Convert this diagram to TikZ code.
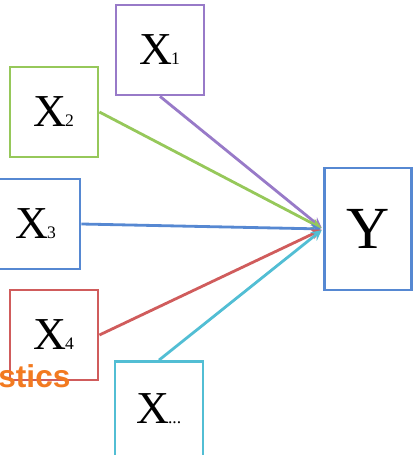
\documentclass[tikz,border=0pt]{standalone}
\usepackage{fontspec}
\setmainfont{Liberation Serif}
\newfontfamily\tagfont{Liberation Sans}
\usepackage{tikz}
\usetikzlibrary{arrows}

\definecolor{xpurple}{RGB}{152,122,200}
\definecolor{xgreen}{RGB}{150,200,90}
\definecolor{xblue}{RGB}{86,136,210}
\definecolor{xred}{RGB}{208,92,92}
\definecolor{xcyan}{RGB}{82,190,212}
\definecolor{tagorange}{RGB}{242,122,32}

\newcommand{\xvar}[1]{X\kern-1pt{\fontsize{10}{10}\selectfont #1}}

\tikzset{
  varbox/.style={draw,line width=1.6pt,minimum width=1.76cm,minimum height=1.8cm,
    inner sep=0pt,font=\fontsize{26}{26}\selectfont},
  link/.style={line width=1.6pt,->,>=stealth,shorten >=1pt}
}

\begin{document}
\begin{tikzpicture}[x=0.02cm,y=-0.02cm]
  \useasboundingbox (0,0) rectangle (419,455);

  \draw (160,50) node[varbox,color=xpurple,text=black] (x1) {\xvar{1}};
  \draw (54,112) node[varbox,color=xgreen,text=black] (x2) {\xvar{2}};
  \draw (36,224) node[varbox,color=xblue,text=black] (x3) {\xvar{3}};
  \draw (54,335) node[varbox,color=xred,text=black] (x4) {\xvar{4}};
  \draw (159,409) node[varbox,color=xcyan,text=black,minimum height=1.9cm] (xn) {\xvar{...}};
  \draw (368,229) node[varbox,color=xblue,text=black,minimum width=1.74cm,
    minimum height=2.44cm,font=\fontsize{34}{34}\selectfont] (y) {Y};

  \draw (-2,376) node[anchor=west,inner sep=0pt,text=tagorange,
    font=\tagfont\bfseries\fontsize{18}{18}\selectfont] (tag) {stics};

    \path[link,color=xpurple] (x1.south) edge (y.west);
    \path[link,color=xgreen] (x2.east) edge (y.west);
    \path[link,color=xblue] (x3.east) edge (y.west);
    \path[link,color=xred] (x4.east) edge (y.west);
    \path[link,color=xcyan] (xn.north) edge (y.west);

\end{tikzpicture}
\end{document}
